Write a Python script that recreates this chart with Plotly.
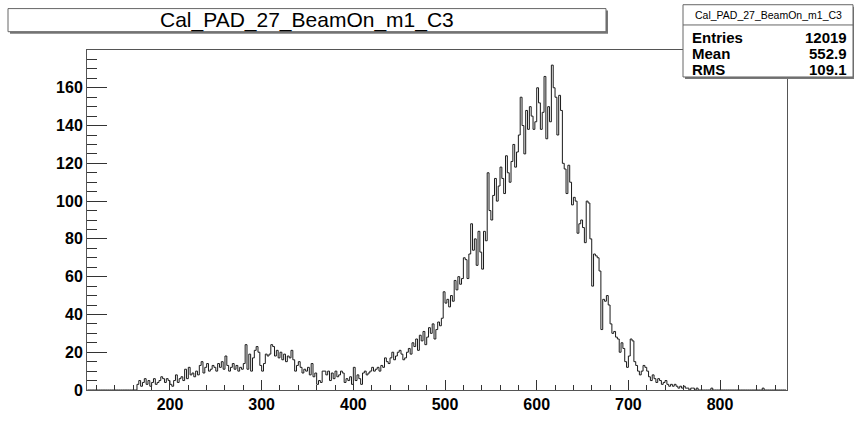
import plotly.graph_objects as go

# ---------------- data (bin width 2, first bin starts at 164) ----------------
BIN_WIDTH = 2
FIRST_BIN = 164
counts_164_198 = [3, 5, 2, 4, 6, 3, 5, 2, 4, 6, 3, 4, 5, 7, 6, 4, 6, 5]
counts_200_248 = [3, 2, 5, 8, 4, 6, 7, 5, 11, 6, 12, 8, 9, 7, 10,
                  8, 13, 15, 9, 12, 14, 10, 11, 13, 12]
counts_250_308 = [10, 14, 12, 15, 11, 18, 13, 10, 12, 14, 11, 13, 10, 12, 11,
                  14, 24, 11, 19, 10, 17, 21, 23, 20, 13, 10, 14, 19, 18, 19]
counts_310_368 = [24, 23, 18, 21, 17, 20, 16, 19, 15, 18, 17, 21, 16, 10, 13,
                  15, 12, 9, 11, 10, 12, 8, 14, 7, 9, 3, 5, 4, 10, 10]
counts_370_428 = [8, 10, 5, 9, 6, 10, 7, 8, 10, 9, 4, 6, 5, 7, 3,
                  12, 5, 8, 6, 3, 9, 10, 8, 9, 10, 12, 10, 11, 12, 10]
counts_430_488 = [13, 12, 17, 15, 14, 17, 20, 16, 18, 20, 21, 19, 16, 17, 20,
                  22, 19, 25, 23, 27, 21, 29, 26, 31, 24, 28, 33, 30, 35, 27]
counts_490_548 = [32, 36, 34, 38, 52, 46, 48, 44, 50, 47, 58, 53, 60, 56, 59,
                  70, 69, 59, 72, 88, 74, 80, 66, 84, 73, 64, 84, 79, 115, 95]
counts_550_608 = [90, 103, 112, 100, 108, 118, 112, 104, 124, 115, 110, 121, 130, 118, 126,
                  135, 155, 140, 125, 148, 138, 150, 145, 138, 142, 160, 152, 138, 147, 166]
counts_610_668 = [133, 150, 142, 172, 160, 155, 135, 156, 148, 120, 117, 104, 119, 110, 98,
                  102, 100, 83, 88, 90, 86, 78, 100, 99, 80, 55, 72, 71, 70, 63]
counts_670_728 = [32, 48, 47, 50, 45, 35, 30, 31, 28, 27, 20, 25, 22, 15, 12,
                  18, 27, 26, 15, 13, 10, 8, 10, 13, 12, 10, 7, 5, 8, 6]
counts_730_778 = [4, 6, 5, 3, 4, 5, 3, 2, 3, 2, 3, 2, 1, 2, 1, 2, 1, 1, 0, 1, 1, 0, 1, 0, 0]
extra_bins = [790, 846]
extra_counts = [1, 1]

x_ticks = [200, 300, 400, 500, 600, 700, 800]
y_ticks = [0, 20, 40, 60, 80, 100, 120, 140, 160]
title_text = "Cal_PAD_27_BeamOn_m1_C3"
stats_names = ["Entries", "Mean", "RMS"]
stats_values = ["12019", "552.9", "109.1"]

counts = (counts_164_198 + counts_200_248 + counts_250_308 + counts_310_368 +
          counts_370_428 + counts_430_488 + counts_490_548 + counts_550_608 +
          counts_610_668 + counts_670_728 + counts_730_778)

X_MIN, X_MAX = 109.5, 873.0
Y_MAX = 180.0

hist = {FIRST_BIN + i * BIN_WIDTH: c for i, c in enumerate(counts)}
for b, c in zip(extra_bins, extra_counts):
    hist[b] = c

edges = list(range(110, 872, BIN_WIDTH))
xs = [e for e in edges] + [872]
ys = [hist.get(e, 0) for e in edges] + [0]

fig = go.Figure()
fig.add_trace(go.Scatter(x=xs, y=ys, mode="lines", line_shape="hv",
                         line=dict(color="#1a1a1a", width=1), hoverinfo="skip",
                         showlegend=False))

W, H = 854, 425
L, R, T, B = 87, 787, 50, 403


def px(x):
    return (x - L) / (R - L)


def py(y):
    return (B - y) / (B - T)


FONT = "Liberation Sans, Arial, Helvetica, sans-serif"
shapes = []
annotations = []

# title pave with shadow
shapes.append(dict(type="rect", xref="paper", yref="paper", x0=px(10), x1=px(608),
                   y0=py(33), y1=py(9), fillcolor="#777", line=dict(width=0)))
shapes.append(dict(type="rect", xref="paper", yref="paper", x0=px(8), x1=px(606),
                   y0=py(31), y1=py(7), fillcolor="white",
                   line=dict(color="#666", width=1)))
annotations.append(dict(xref="paper", yref="paper", x=px(307), y=py(19),
                        text=title_text, showarrow=False, xanchor="center",
                        yanchor="middle", font=dict(family=FONT, size=21, color="black")))

# stats pave
shapes.append(dict(type="rect", xref="paper", yref="paper", x0=px(685), x1=px(856),
                   y0=py(80), y1=py(5), fillcolor="#777", line=dict(width=0)))
shapes.append(dict(type="rect", xref="paper", yref="paper", x0=px(683), x1=px(853),
                   y0=py(78), y1=py(3), fillcolor="white",
                   line=dict(color="#666", width=1)))
shapes.append(dict(type="line", xref="paper", yref="paper", x0=px(683), x1=px(853),
                   y0=py(24), y1=py(24), line=dict(color="#666", width=1)))
annotations.append(dict(xref="paper", yref="paper", x=px(768), y=py(14),
                        text=title_text, showarrow=False, xanchor="center",
                        yanchor="middle", font=dict(family=FONT, size=10.5, color="black")))
for i, (n, v) in enumerate(zip(stats_names, stats_values)):
    yy = 37 + i * 16.5
    annotations.append(dict(xref="paper", yref="paper", x=px(690), y=py(yy), text=n,
                            showarrow=False, xanchor="left", yanchor="middle",
                            font=dict(family=FONT, size=15, color="black", weight="bold")))
    annotations.append(dict(xref="paper", yref="paper", x=px(849), y=py(yy), text=v,
                            showarrow=False, xanchor="right", yanchor="middle",
                            font=dict(family=FONT, size=15, color="black", weight="bold")))

fig.update_layout(
    width=W, height=H, autosize=False,
    margin=dict(l=L, r=W - R, t=T, b=H - B, pad=0),
    paper_bgcolor="white", plot_bgcolor="white",
    shapes=shapes, annotations=annotations,
    xaxis=dict(range=[X_MIN, X_MAX], tickmode="array", tickvals=x_ticks,
               ticks="inside", ticklen=10, tickcolor="#333", tickwidth=1,
               minor=dict(dtick=20, tick0=0, ticks="inside", ticklen=5,
                          tickcolor="#333", tickwidth=1, showgrid=False),
               showgrid=False, zeroline=False, showline=True, linecolor="#555",
               linewidth=1, mirror=True,
               tickfont=dict(family=FONT, size=16, color="black", weight="bold")),
    yaxis=dict(range=[0, Y_MAX], tickmode="array", tickvals=y_ticks,
               ticks="inside", ticklen=20, tickcolor="#333", tickwidth=1,
               minor=dict(dtick=5, tick0=0, ticks="inside", ticklen=10,
                          tickcolor="#333", tickwidth=1, showgrid=False),
               showgrid=False, zeroline=False, showline=True, linecolor="#555",
               linewidth=1, mirror=True,
               tickfont=dict(family=FONT, size=16, color="black", weight="bold")),
)

fig.write_html("out.html", config={"displayModeBar": False, "staticPlot": True},
               post_script="document.body.style.margin='0';document.body.style.padding='0';")
